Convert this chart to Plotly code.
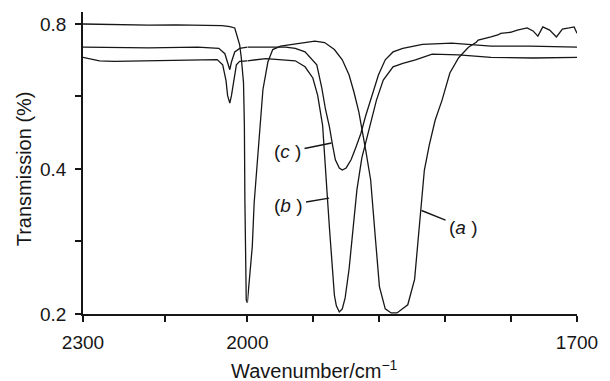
import numpy as np
import plotly.graph_objects as go

# ---- data (wavenumber in cm^-1, transmission) ----
WN_A = [2300, 2250, 2180, 2130, 2091, 2046, 2032, 2023, 2014, 2011, 2007, 2005.4, 2004.5, 2003.5, 2002, 2000,
        1998.2, 1995.5, 1993.8, 1990.2, 1988.4, 1985.8, 1981.3, 1976.9, 1969.7, 1956.4, 1938.6, 1929.7,
        1920.8, 1913.6, 1907.4, 1903.0, 1898.5, 1892.3, 1887.8, 1883.4, 1879.8, 1874.5, 1869.1, 1863.8,
        1854.0, 1847.8, 1845.1, 1842.4, 1838.9, 1834.4, 1829.1, 1822.8, 1815.7, 1807.7, 1798.8, 1791.7,
        1789.9, 1778.3, 1772.1, 1769.4, 1760.5, 1754.3, 1745.4, 1740.0, 1735.6, 1731.1, 1724.9, 1718.7,
        1713.3, 1707.1, 1702.6, 1700.0]
T_A = [0.800, 0.798, 0.796, 0.797, 0.796, 0.794, 0.790, 0.785, 0.724, 0.680, 0.604, 0.493, 0.345, 0.228, 0.214, 0.211,
       0.239, 0.276, 0.340, 0.432, 0.505, 0.585, 0.667, 0.708, 0.720, 0.727, 0.737, 0.732,
       0.708, 0.674, 0.627, 0.578, 0.525, 0.438, 0.380, 0.286, 0.228, 0.205, 0.201, 0.201,
       0.209, 0.236, 0.276, 0.329, 0.398, 0.449, 0.505, 0.556, 0.633, 0.681, 0.716, 0.733,
       0.741, 0.752, 0.759, 0.765, 0.769, 0.777, 0.785, 0.774, 0.755, 0.789, 0.777, 0.752,
       0.781, 0.785, 0.789, 0.765]

WN_B = [2300, 2270, 2243, 2180, 2127, 2091, 2055, 2045, 2039, 2036, 2032, 2029, 2025, 2020, 2014, 2000,
        1983, 1956.4, 1947.5, 1940.4, 1936.0, 1931.5, 1929.7, 1927.0, 1925.2, 1923.4, 1920.8, 1919.0,
        1916.3, 1913.6, 1911.0, 1907.4, 1903.8, 1900.3, 1895.8, 1892.3, 1887.8, 1882.5, 1876.3, 1867.4,
        1858.5, 1847.0, 1831.8, 1807.7, 1778.3, 1740.0, 1700.0]
T_B = [0.682, 0.671, 0.669, 0.671, 0.675, 0.675, 0.675, 0.658, 0.611, 0.568, 0.548, 0.568, 0.611, 0.658, 0.669, 0.671,
       0.678, 0.671, 0.652, 0.618, 0.569, 0.493, 0.418, 0.345, 0.300, 0.259, 0.219, 0.208,
       0.202, 0.205, 0.216, 0.248, 0.300, 0.362, 0.422, 0.455, 0.501, 0.556, 0.612, 0.652,
       0.663, 0.674, 0.693, 0.690, 0.682, 0.680, 0.682]

WN_C = [2300, 2180, 2091, 2052, 2041, 2036, 2032, 2029, 2023, 2014, 2000,
        1992, 1965.3, 1956.4, 1947.5, 1936.8, 1932.3, 1928.8, 1925.2, 1922.5, 1919.9, 1916.3, 1913.6,
        1910.1, 1905.6, 1901.2, 1896.7, 1892.3, 1886.9, 1880.7, 1874.5, 1867.4, 1858.5, 1840.6, 1814.0,
        1778.3, 1742.7, 1700.0]
T_C = [0.716, 0.714, 0.716, 0.712, 0.694, 0.667, 0.643, 0.667, 0.700, 0.712, 0.716,
       0.716, 0.716, 0.712, 0.700, 0.658, 0.590, 0.531, 0.488, 0.449, 0.418, 0.402, 0.398,
       0.402, 0.418, 0.444, 0.474, 0.516, 0.568, 0.627, 0.674, 0.700, 0.712, 0.726, 0.730,
       0.720, 0.720, 0.716]

SERIES = [("a", WN_A, T_A), ("b", WN_B, T_B), ("c", WN_C, T_C)]

# label anchor points on curves (wavenumber, transmission) and label names
LABELS = ["(<i>a</i> )", "(<i>b</i> )", "(<i>c</i> )"]
LABEL_WN = [1841.5, 1925.6, 1923.4]
LABEL_T = [0.328, 0.348, 0.453]
LABEL_OFFSETS = [(42, 17), (-41, 7), (-44, 9)]

X_TICKS_LEFT = [2300, 2000]
X_TEXT_LEFT = ["2300", "2000"]
X_MINOR_LEFT = [2150]
X_TICKS_RIGHT = [1700]
X_TEXT_RIGHT = ["1700"]
X_MINOR_RIGHT = [1940, 1880, 1820, 1760]
Y_TICKS = [0.2, 0.4, 0.8]
Y_TEXT = ["0.2", "0.4", "0.8"]
Y_MINOR = [0.283, 0.566]

FONT = "Liberation Sans, Arial, Helvetica, sans-serif"
INK = "#161616"

fig = go.Figure()
for name, wn, t in SERIES:
    left = [(w, v) for w, v in zip(wn, t) if w >= 2000]
    right = [(w, v) for w, v in zip(wn, t) if w <= 2000]
    fig.add_trace(go.Scatter(x=[p[0] for p in left], y=[p[1] for p in left], mode="lines",
                             line=dict(color=INK, width=1.3), xaxis="x", yaxis="y",
                             showlegend=False, hoverinfo="skip"))
    fig.add_trace(go.Scatter(x=[p[0] for p in right], y=[p[1] for p in right], mode="lines",
                             line=dict(color=INK, width=1.3), xaxis="x2", yaxis="y",
                             showlegend=False, hoverinfo="skip"))

split = 168 / 505
axis_common = dict(ticks="outside", ticklen=6, tickwidth=1.5, tickcolor=INK, showline=True,
                   linewidth=1.5, linecolor=INK, showgrid=False, zeroline=False,
                   tickfont=dict(family=FONT, size=19, color=INK))


def minor(vals):
    return dict(tickmode="array", tickvals=vals, ticks="outside", ticklen=6, tickwidth=1.5,
                tickcolor=INK, showgrid=False)


fig.update_layout(
    width=610, height=381,
    margin=dict(l=83, r=22, t=12, b=67),
    paper_bgcolor="white", plot_bgcolor="white",
    xaxis=dict(domain=[0, split], range=[2300, 2000], tickmode="array", tickvals=X_TICKS_LEFT,
               ticktext=X_TEXT_LEFT, minor=minor(X_MINOR_LEFT),
               anchor="y", ticklabelstandoff=4, **axis_common),
    xaxis2=dict(domain=[split, 1], range=[2000, 1700], tickmode="array", tickvals=X_TICKS_RIGHT,
                ticktext=X_TEXT_RIGHT, minor=minor(X_MINOR_RIGHT),
                anchor="y", ticklabelstandoff=4, **axis_common),
    yaxis=dict(type="log", range=[np.log10(0.2), -0.072], tickmode="array", tickvals=Y_TICKS,
               ticktext=Y_TEXT, minor=minor(Y_MINOR),
               anchor="x", ticklabelstandoff=5, **axis_common),
)

annotations = []
for txt, w, v, (ax, ay) in zip(LABELS, LABEL_WN, LABEL_T, LABEL_OFFSETS):
    annotations.append(dict(xref="x2", yref="y", x=w, y=np.log10(v), ax=ax, ay=ay, text=txt,
                            showarrow=True, arrowhead=0, arrowwidth=1.4, arrowcolor=INK,
                            borderpad=3, font=dict(family=FONT, size=19, color=INK)))
annotations.append(dict(xref="paper", yref="paper", x=(320 - 83) / 505, y=(314 - 369) / 302,
                        text="Wavenumber/cm<sup>−1</sup>", showarrow=False, xanchor="center",
                        yanchor="middle", font=dict(family=FONT, size=20, color=INK)))
annotations.append(dict(xref="paper", yref="paper", x=(23 - 83) / 505, y=(314 - 169) / 302,
                        text="Transmission (%)", showarrow=False, textangle=-90, xanchor="center",
                        yanchor="middle", font=dict(family=FONT, size=20, color=INK)))
fig.update_layout(annotations=annotations)

fig.write_html("out.html", config={"displayModeBar": False},
               post_script="document.body.style.margin='0';")
